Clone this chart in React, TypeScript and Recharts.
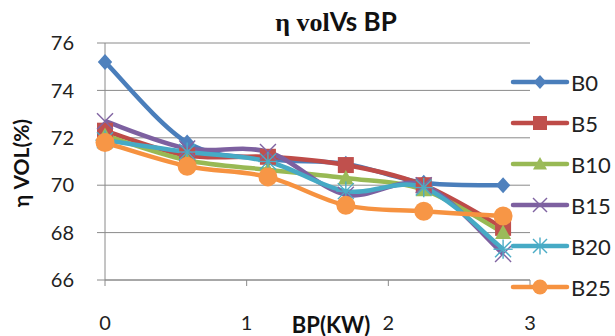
import React from 'react';
import { LineChart, Line, XAxis, YAxis, CartesianGrid, Label } from 'recharts';

// brake power (kW) at each load step
const bp = [0, 0.58, 1.15, 1.7, 2.25, 2.81];

// volumetric efficiency (%) per blend
const b0 = [75.2, 71.8, 71.1, 70.9, 70.1, 70.0];
const b5 = [72.3, 71.25, 71.2, 70.85, 70.0, 68.2];
const b10 = [72.1, 71.05, 70.65, 70.3, 69.8, 68.0];
const b15 = [72.7, 71.55, 71.4, 69.6, 70.0, 67.1];
const b20 = [71.9, 71.4, 71.0, 69.75, 69.9, 67.3];
const b25 = [71.8, 70.8, 70.35, 69.15, 68.9, 68.7];

const yTicks = [66, 68, 70, 72, 74, 76];
const xTicks = [0, 1, 2, 3];

type Shape = 'diamond' | 'square' | 'triangle' | 'cross' | 'star' | 'circle';

const series: { key: string; name: string; color: string; fill: string; shape: Shape; values: number[] }[] = [
  { key: 'b0', name: 'B0', color: '#4A7EBB', fill: '#4F81BD', shape: 'diamond', values: b0 },
  { key: 'b5', name: 'B5', color: '#BE4B48', fill: '#C0504D', shape: 'square', values: b5 },
  { key: 'b10', name: 'B10', color: '#98B954', fill: '#9BBB59', shape: 'triangle', values: b10 },
  { key: 'b15', name: 'B15', color: '#7D60A0', fill: '#8064A2', shape: 'cross', values: b15 },
  { key: 'b20', name: 'B20', color: '#46AAC5', fill: '#4BACC6', shape: 'star', values: b20 },
  { key: 'b25', name: 'B25', color: '#F69240', fill: '#F79646', shape: 'circle', values: b25 },
];

const rows = bp.map((x, i) => {
  const row: Record<string, number> = { bp: x };
  series.forEach(s => { row[s.key] = s.values[i]; });
  return row;
});

const FONT = 'Lato, "Open Sans", sans-serif';
const GRID = '#8a8a8a';

// Catmull-Rom style smoothing, close to what spreadsheet "smoothed line" does
function smoothCurve(context: any) {
  let pts: number[][] = [];
  return {
    areaStart() {},
    areaEnd() {},
    lineStart() { pts = []; },
    point(x: number, y: number) { pts.push([+x, +y]); },
    lineEnd() {
      if (!pts.length) return;
      context.moveTo(pts[0][0], pts[0][1]);
      for (let i = 0; i < pts.length - 1; i++) {
        const p0 = pts[Math.max(i - 1, 0)];
        const p1 = pts[i];
        const p2 = pts[i + 1];
        const p3 = pts[Math.min(i + 2, pts.length - 1)];
        context.bezierCurveTo(
          p1[0] + (p2[0] - p0[0]) / 6, p1[1] + (p2[1] - p0[1]) / 6,
          p2[0] - (p3[0] - p1[0]) / 6, p2[1] - (p3[1] - p1[1]) / 6,
          p2[0], p2[1],
        );
      }
    },
  };
}

function Marker({ shape, cx, cy, fill, s }: { shape: Shape; cx: number; cy: number; fill: string; s: number }) {
  switch (shape) {
    case 'diamond':
      return <polygon points={`${cx},${cy - s} ${cx + s * 0.9},${cy} ${cx},${cy + s} ${cx - s * 0.9},${cy}`} fill={fill} />;
    case 'square':
      return <rect x={cx - s} y={cy - s} width={s * 2} height={s * 2} fill={fill} />;
    case 'triangle':
      return <polygon points={`${cx},${cy - s} ${cx + s},${cy + s * 0.8} ${cx - s},${cy + s * 0.8}`} fill={fill} />;
    case 'cross':
      return (
        <g stroke={fill} strokeWidth={1.4}>
          <line x1={cx - s} y1={cy - s} x2={cx + s} y2={cy + s} />
          <line x1={cx - s} y1={cy + s} x2={cx + s} y2={cy - s} />
        </g>
      );
    case 'star':
      return (
        <g stroke={fill} strokeWidth={1.4}>
          <line x1={cx - s} y1={cy - s} x2={cx + s} y2={cy + s} />
          <line x1={cx - s} y1={cy + s} x2={cx + s} y2={cy - s} />
          <line x1={cx} y1={cy - s * 1.2} x2={cx} y2={cy + s * 1.2} />
          <line x1={cx - s * 1.2} y1={cy} x2={cx + s * 1.2} y2={cy} />
        </g>
      );
    default:
      return <circle cx={cx} cy={cy} r={s} fill={fill} />;
  }
}

const markerSize: Record<Shape, number> = { diamond: 8, square: 8, triangle: 8, cross: 8, star: 8, circle: 9.5 };

function LegendBox() {
  return (
    <svg width={110} height={250} style={{ position: 'absolute', left: 505, top: 62 }}>
      {series.map((s, i) => {
        const y = 20 + i * 41;
        return (
          <g key={s.key}>
            <line x1={8} x2={62} y1={y} y2={y} stroke={s.color} strokeWidth={4.5} strokeLinecap="round" />
            <Marker shape={s.shape} cx={35} cy={y} fill={s.fill} s={s.shape === 'circle' ? 7.5 : 7} />
            <text x={66} y={y} dominantBaseline="central" fontFamily={FONT} fontSize={22} fill="#222">{s.name}</text>
          </g>
        );
      })}
    </svg>
  );
}

export default function App() {
  return (
    <div style={{ position: 'absolute', left: 0, top: 0, width: 615, height: 336, background: '#fff' }}>
      <LineChart width={615} height={336} data={rows} margin={{ top: 43, right: 85, left: 0, bottom: 0 }}>
        <CartesianGrid vertical={false} stroke={GRID} />
        <XAxis
          dataKey="bp"
          type="number"
          domain={[0, 3]}
          ticks={xTicks}
          height={56}
          tickSize={6}
          tickMargin={30}
          stroke={GRID}
          tick={{ fill: '#222', fontSize: 20, fontFamily: FONT }}
        >
          <Label
            content={() => (
              <text x={331} y={324} textAnchor="middle" dominantBaseline="central" fontFamily={FONT} fontWeight="bold" fontSize={22} fill="#111">
                BP(KW)
              </text>
            )}
          />
        </XAxis>
        <YAxis
          domain={[66, 76]}
          ticks={yTicks}
          width={105}
          tickSize={8}
          tickMargin={23}
          stroke={GRID}
          tick={{ fill: '#222', fontSize: 20, fontFamily: FONT }}
        >
          <Label
            content={() => (
              <text x={20} y={163} transform="rotate(-90 20 163)" textAnchor="middle" dominantBaseline="central" fontFamily={FONT} fontWeight="bold" fontSize={21} fill="#111">
                η VOL(%)
              </text>
            )}
          />
        </YAxis>
        {series.map(s => (
          <Line
            key={s.key}
            dataKey={s.key}
            name={s.name}
            type={smoothCurve as any}
            stroke={s.color}
            strokeWidth={4.5}
            isAnimationActive={false}
            dot={(p: any) => <Marker key={`${s.key}-${p.index}`} shape={s.shape} cx={p.cx} cy={p.cy} fill={s.fill} s={markerSize[s.shape]} />}
            activeDot={false}
          />
        ))}
      </LineChart>
      <LegendBox />
      <div style={{ position: 'absolute', left: 0, top: 5, width: 672, textAlign: 'center', fontWeight: 'bold', fontSize: 26, lineHeight: '32px', color: '#111' }}>
        <span style={{ fontFamily: '"Liberation Serif", serif' }}>η vol</span>
        <span style={{ fontFamily: FONT }}>Vs BP</span>
      </div>
    </div>
  );
}
